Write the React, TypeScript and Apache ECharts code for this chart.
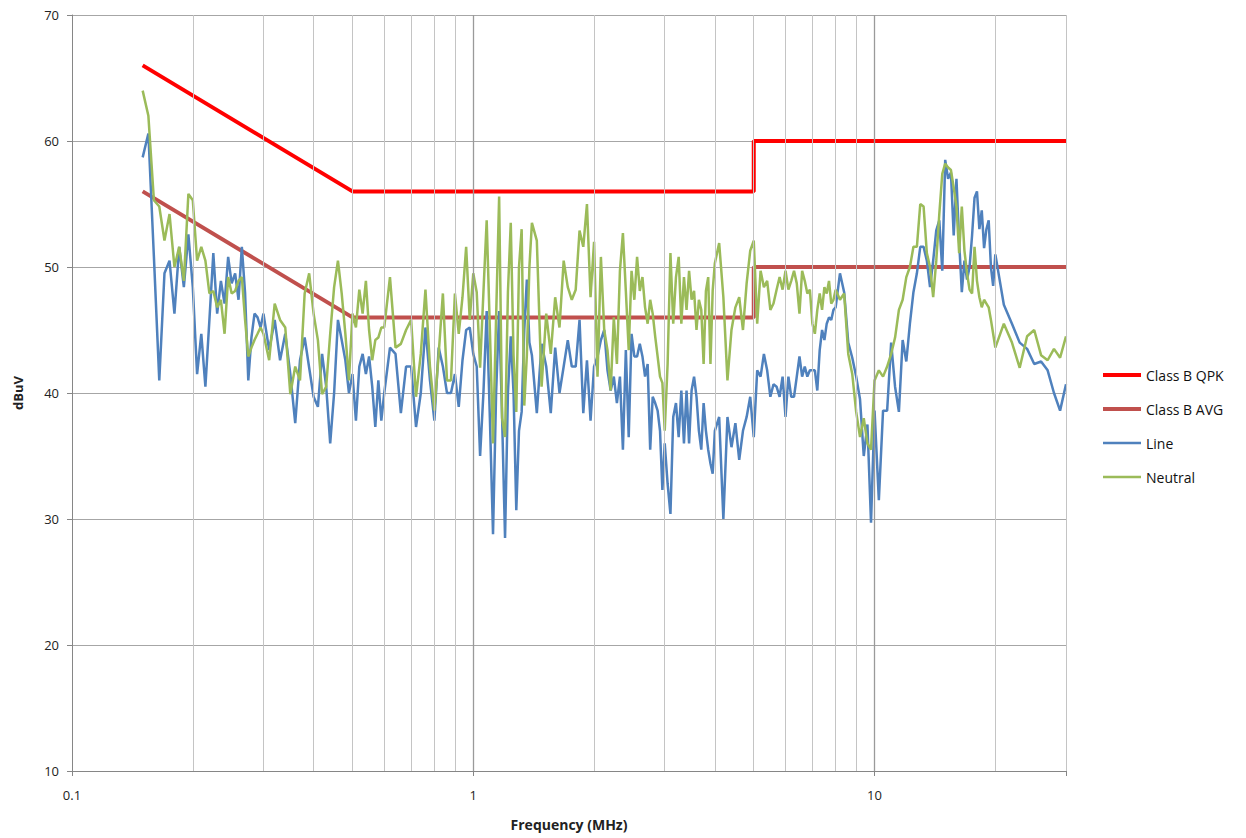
import React, { useEffect, useRef } from "react";
import * as echarts from "echarts";

// Frequency grid (MHz) shared by the two measured traces
const freqMHz = [
  0.15, 0.155, 0.16, 0.165, 0.17, 0.175, 0.18, 0.185, 0.19, 0.195, 0.2, 0.205, 0.21, 0.215, 0.22, 0.225,
  0.23, 0.235, 0.24, 0.245, 0.25, 0.255, 0.26, 0.265, 0.27, 0.275, 0.28, 0.285, 0.29, 0.295, 0.3,
  0.31, 0.32, 0.33, 0.34, 0.35, 0.36, 0.37, 0.38, 0.39, 0.4, 0.41, 0.42, 0.43, 0.44, 0.45, 0.46, 0.47,
  0.48, 0.49, 0.5, 0.51, 0.52, 0.53, 0.54, 0.55, 0.56, 0.57, 0.58, 0.59, 0.6,
  0.62, 0.64, 0.66, 0.68, 0.7, 0.72, 0.74, 0.76, 0.78, 0.8, 0.82, 0.84, 0.86, 0.88, 0.9, 0.92, 0.94, 0.96, 0.98, 1.0,
  1.02, 1.04, 1.06, 1.08, 1.1, 1.12, 1.14, 1.16, 1.18, 1.2, 1.22, 1.24, 1.26, 1.28, 1.3, 1.32, 1.34, 1.36, 1.38, 1.4,
  1.44, 1.48, 1.52, 1.56, 1.6, 1.64, 1.68, 1.72, 1.76, 1.8, 1.84, 1.88, 1.92, 1.96, 2.0,
  2.04, 2.08, 2.12, 2.16, 2.2, 2.24, 2.28, 2.32, 2.36, 2.4, 2.44, 2.48, 2.52, 2.56, 2.6, 2.64, 2.68, 2.72,
  2.76, 2.8, 2.84, 2.88, 2.92, 2.96, 3.0,
  3.05, 3.1, 3.15, 3.2, 3.25, 3.3, 3.35, 3.4, 3.45, 3.5, 3.55, 3.6, 3.65, 3.7, 3.75, 3.8, 3.85, 3.9, 3.95, 4.0,
  4.1, 4.2, 4.3, 4.4, 4.5, 4.6, 4.7, 4.8, 4.9, 5.0, 5.1, 5.2, 5.3, 5.4, 5.5, 5.6, 5.7, 5.8, 5.9, 6.0,
  6.1, 6.2, 6.3, 6.4, 6.5, 6.6, 6.7, 6.8, 6.9, 7.0, 7.1, 7.2, 7.3, 7.4, 7.5, 7.6, 7.7, 7.8, 7.9, 8.0,
  8.2, 8.4, 8.6, 8.8, 9.0, 9.2, 9.4, 9.6, 9.8, 10,
  10.25, 10.5, 10.75, 11, 11.25, 11.5, 11.75, 12, 12.25, 12.5, 12.75, 13, 13.25, 13.5, 13.75, 14,
  14.25, 14.5, 14.75, 15, 15.25, 15.5, 15.75, 16, 16.25, 16.5, 16.75, 17, 17.25, 17.5, 17.75, 18,
  18.25, 18.5, 18.75, 19, 19.25, 19.5, 19.75, 20,
  21, 22, 23, 24, 25, 26, 27, 28, 29, 30,
];

// "Line" conductor measurement (dBuV)
const lineDbuv = [
  58.7, 60.6, 50.8, 41.0, 49.5, 50.5, 46.3, 51.6, 48.4, 52.6, 48.4, 41.5, 44.7, 40.5, 45.8, 51.1,
  46.3, 48.9, 47.1, 50.8, 48.7, 49.5, 47.4, 51.6, 47.9, 41.0, 44.4, 46.3, 46.0, 45.2, 46.3,
  43.4, 45.8, 42.6, 44.7, 41.5, 37.6, 42.6, 44.4, 42.0, 39.7, 38.9, 43.1, 40.5, 36.0, 40.0, 45.8, 44.2,
  42.6, 40.0, 41.5, 37.8, 42.1, 43.1, 41.5, 42.9, 40.5, 37.3, 41.0, 37.8, 40.0,
  43.6, 43.1, 38.4, 42.1, 42.1, 37.3, 40.0, 45.2, 41.0, 37.8, 43.6, 42.1, 40.0, 40.0, 41.5, 38.9, 42.6, 45.0, 45.2, 43.1,
  42.1, 35.0, 40.0, 46.5, 38.0, 28.8, 40.0, 46.5, 38.0, 28.5, 40.0, 44.5, 40.0, 30.7, 37.0, 38.5, 45.0, 49.0, 44.0, 43.0,
  38.4, 43.9, 42.1, 38.4, 43.6, 40.0, 42.1, 44.2, 42.1, 42.1, 45.8, 38.4, 42.6, 37.8, 42.1,
  42.9, 44.2, 45.0, 41.8, 40.2, 41.3, 39.2, 41.3, 35.5, 43.4, 36.5, 44.7, 42.9, 42.9, 43.9, 42.9, 41.3, 42.3,
  35.5, 39.7, 39.2, 38.6, 37.0, 32.3, 36.0,
  32.8, 30.4, 38.1, 39.2, 36.5, 40.2, 36.0, 40.2, 36.0, 40.2, 41.3, 39.7, 37.0, 35.5, 39.2, 37.0, 35.5, 34.4, 33.6, 37.0,
  38.1, 30.0, 38.1, 35.7, 37.6, 34.7, 37.0, 38.1, 39.7, 36.5, 41.8, 41.3, 43.1, 41.8, 39.7, 40.7, 40.5, 39.7, 41.3, 38.1,
  41.3, 39.7, 39.7, 41.3, 42.9, 41.3, 42.1, 41.3, 41.8, 41.8, 41.8, 40.2, 43.4, 45.0, 44.2, 45.5, 46.0, 45.8, 46.6, 46.8,
  49.5, 48.0, 44.0, 42.8, 41.3, 39.5, 35.0, 37.5, 29.7, 38.6,
  31.5, 38.6, 38.6, 44.0, 40.5, 38.5, 44.2, 42.5, 45.5, 48.0, 49.5, 51.6, 51.6, 50.5, 48.4, 50.5,
  52.9, 53.7, 49.7, 58.5, 57.0, 57.5, 52.5, 57.0, 52.0, 48.0, 50.5, 49.0, 50.0, 52.5, 55.5, 56.0,
  53.0, 54.5, 51.5, 53.0, 53.7, 50.0, 48.5, 51.0,
  47.0, 45.5, 44.0, 43.5, 42.3, 42.5, 41.8, 40.0, 38.6, 40.7,
];

// "Neutral" conductor measurement (dBuV)
const neutralDbuv = [
  64.0, 62.0, 55.3, 54.8, 52.1, 54.2, 50.0, 51.6, 48.9, 55.8, 55.3, 50.5, 51.6, 50.5, 47.9, 48.1,
  46.8, 47.4, 44.7, 49.2, 47.9, 48.1, 48.9, 49.2, 45.8, 42.9, 43.6, 44.2, 44.7, 45.2, 44.7,
  42.6, 47.1, 45.8, 45.2, 39.9, 42.1, 41.0, 47.9, 49.5, 46.3, 44.2, 39.9, 40.5, 44.7, 48.4, 50.5, 47.9,
  44.7, 41.0, 46.3, 45.2, 48.2, 46.3, 48.9, 45.0, 42.6, 44.2, 44.4, 45.2, 45.2,
  49.2, 43.6, 43.9, 45.0, 45.8, 39.7, 43.1, 48.2, 42.1, 38.6, 43.1, 47.9, 41.0, 41.0, 47.9, 44.7, 47.6, 51.6, 45.8, 49.5,
  48.0, 42.0, 48.0, 53.7, 45.0, 36.0, 46.0, 55.6, 38.0, 36.5, 48.0, 53.5, 43.0, 38.5, 50.0, 53.0, 39.0, 43.0, 50.0, 53.5,
  52.1, 40.5, 46.3, 43.1, 47.6, 45.2, 50.5, 48.4, 47.4, 48.2, 52.9, 51.6, 55.0, 47.6, 52.0,
  41.3, 50.8, 45.0, 43.4, 40.2, 46.0, 42.3, 49.7, 52.7, 48.1, 43.4, 49.7, 47.4, 50.8, 48.1, 49.2, 46.8, 45.5,
  47.4, 46.3, 44.5, 42.9, 41.3, 40.8, 37.0,
  42.3, 51.1, 45.5, 49.2, 50.8, 45.5, 49.2, 46.6, 49.7, 47.4, 48.1, 45.0, 47.4, 46.6, 42.3, 48.1, 49.2, 42.3, 48.1, 50.3,
  51.9, 47.6, 41.0, 45.0, 46.8, 47.6, 45.0, 48.7, 51.3, 52.1, 45.5, 49.7, 48.4, 48.9, 46.6, 47.1, 48.2, 49.2, 48.2, 49.7,
  48.2, 48.9, 49.7, 48.7, 46.3, 49.7, 48.9, 47.9, 48.2, 45.5, 44.7, 46.6, 47.9, 46.6, 48.4, 47.9, 48.9, 47.1, 47.4, 48.2,
  47.4, 47.9, 43.1, 41.5, 38.5, 36.5, 38.0, 36.0, 35.5, 41.0,
  41.8, 41.3, 42.1, 43.1, 44.4, 46.6, 47.4, 49.2, 50.0, 51.6, 51.6, 55.0, 54.8, 51.1, 50.0, 47.6,
  50.5, 54.2, 57.4, 58.2, 57.9, 57.7, 56.3, 54.8, 51.1, 54.8, 51.3, 49.5, 48.2, 47.9, 51.6, 48.9,
  47.6, 46.8, 47.4, 47.1, 46.8, 45.8, 44.7, 43.6,
  45.5, 44.0, 42.0, 44.5, 45.0, 43.0, 42.6, 43.5, 42.8, 44.5,
];

// Limit lines (Class B)
const limitFreq = [0.15, 0.5, 5, 5, 30];
const qpkLimit = [66, 56, 56, 60, 60];
const avgLimit = [56, 46, 46, 50, 50];

// Gridline positions
const minorGridFreq = [0.2, 0.3, 0.4, 0.5, 0.6, 0.7, 0.8, 0.9, 2, 3, 4, 5, 6, 7, 8, 9, 20, 30];
const majorGridFreq = [1, 10];

const seriesNames = ["Class B QPK", "Class B AVG", "Line", "Neutral"];
const seriesColors = ["#FF0000", "#C0504D", "#4F81BD", "#9BBB59"];
const seriesWidths = [4, 4, 2.5, 2.5];

const FONT = "'Open Sans', 'Noto Sans', 'DejaVu Sans', sans-serif";

function zip(xs: number[], ys: number[]) {
  return xs.map((x, i) => [x, ys[i]]);
}

export default function App() {
  const ref = useRef<HTMLDivElement>(null);

  useEffect(() => {
    if (!ref.current) return;
    const chart = echarts.init(ref.current, null, { renderer: "svg" });

    const gridMarks: any[] = minorGridFreq
      .map((v) => ({ xAxis: v, lineStyle: { color: "#c4c4c4", width: 1, type: "solid" } }))
      .concat(majorGridFreq.map((v) => ({ xAxis: v, lineStyle: { color: "#9a9a9a", width: 1.3, type: "solid" } })));

    const makeSeries = (i: number, ys: number[], xs: number[]) => ({
      type: "line",
      name: seriesNames[i],
      z: 3,
      data: zip(xs, ys),
      symbol: "none",
      showSymbol: false,
      itemStyle: { color: seriesColors[i] },
      lineStyle: { color: seriesColors[i], width: seriesWidths[i] },
    });

    const option: any = {
      animation: false,
      backgroundColor: "#ffffff",
      textStyle: { fontFamily: FONT },
      grid: { left: 72, right: 180, top: 15, bottom: 67, containLabel: false, outerBoundsMode: "none" },
      xAxis: {
        type: "log",
        logBase: 10,
        min: 0.1,
        max: 30,
        name: "Frequency (MHz)",
        nameLocation: "middle",
        nameGap: 46,
        nameTextStyle: { fontWeight: "bold", fontSize: 14, color: "#222", fontFamily: FONT },
        axisLine: { show: true, onZero: false, lineStyle: { color: "#868686", width: 1 } },
        axisTick: { show: true, length: 5, lineStyle: { color: "#868686" } },
        axisLabel: {
          fontSize: 13,
          color: "#222",
          margin: 17,
          fontFamily: FONT,
          formatter: (v: number) => {
            const l = Math.log10(v);
            if (Math.abs(l - Math.round(l)) > 1e-6) return "";
            return v < 1 ? "0.1" : String(Math.round(v));
          },
        },
        splitLine: { show: false },
        minorTick: { show: false },
        minorSplitLine: { show: false },
      },
      yAxis: {
        type: "value",
        min: 10,
        max: 70,
        interval: 10,
        name: "dBuV",
        nameLocation: "middle",
        nameGap: 48,
        nameTextStyle: { fontWeight: "bold", fontSize: 13, color: "#222", fontFamily: FONT },
        axisLine: { show: true, onZero: false, lineStyle: { color: "#868686", width: 1 } },
        axisTick: { show: true, length: 5, lineStyle: { color: "#868686" } },
        axisLabel: { fontSize: 13, color: "#222", margin: 13, fontFamily: FONT },
        splitLine: { show: true, lineStyle: { color: "#a6a6a6", width: 1 } },
      },
      legend: {
        orient: "vertical",
        left: 1098,
        top: 363,
        itemWidth: 38,
        itemHeight: 14,
        itemGap: 20,
        symbolKeepAspect: true,
        data: seriesNames.map((n, i) => ({
          name: n,
          icon: seriesWidths[i] > 3 ? "path://M0,0H38V4H0Z" : "path://M0,0H38V2.5H0Z",
        })),
        textStyle: { fontSize: 14, color: "#111", fontFamily: FONT, lineHeight: 14 },
      },
      series: [
        {
          type: "line",
          name: "_grid",
          z: 1,
          silent: true,
          data: [[1, 40]],
          showSymbol: false,
          symbol: "none",
          lineStyle: { width: 0, opacity: 0 },
          markLine: {
            silent: true,
            animation: false,
            symbol: ["none", "none"],
            label: { show: false },
            emphasis: { disabled: true },
            data: gridMarks,
          },
        },
        makeSeries(0, qpkLimit, limitFreq),
        makeSeries(1, avgLimit, limitFreq),
        makeSeries(2, lineDbuv, freqMHz),
        makeSeries(3, neutralDbuv, freqMHz),
      ],
    };

    chart.setOption(option);
    return () => chart.dispose();
  }, []);

  return (
    <div
      ref={ref}
      style={{ position: "fixed", left: 0, top: 0, width: 1246, height: 838, background: "#fff" }}
    />
  );
}
